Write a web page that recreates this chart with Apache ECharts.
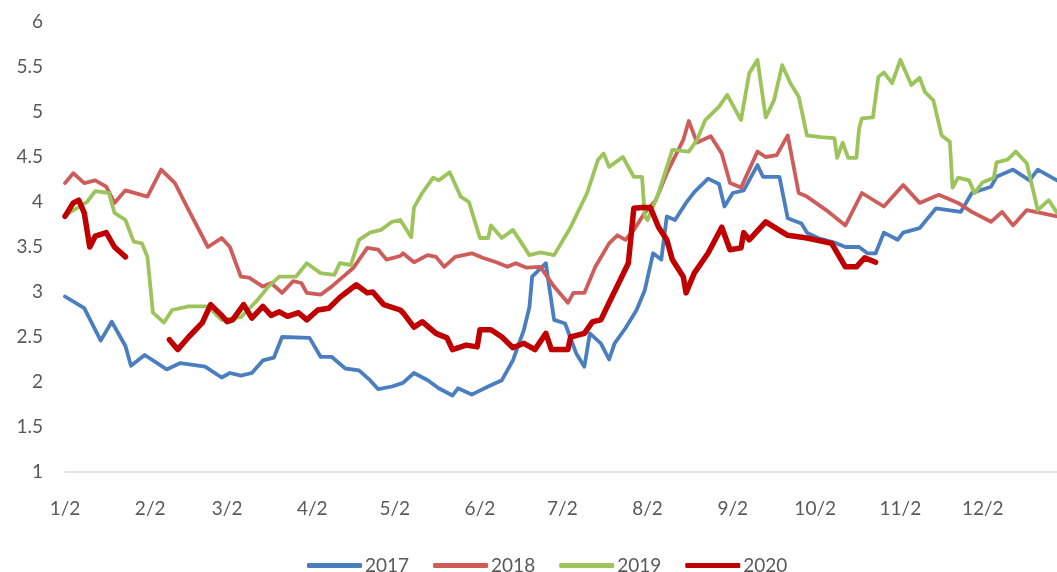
<!DOCTYPE html>
<html>
<head>
<meta charset="utf-8">
<script src="https://cdn.jsdelivr.net/npm/echarts@6/dist/echarts.min.js"></script>
<style>html,body{margin:0;padding:0;background:#fff;}#c{width:1057px;height:572px;}</style>
</head>
<body>
<div id="c"></div>
<script>
// x = days after Jan 2; tick labels at the 2nd of each month
const monthDays = [0, 31, 59, 90, 120, 151, 181, 212, 243, 273, 304, 334];
const monthLabels = ['1/2','2/2','3/2','4/2','5/2','6/2','7/2','8/2','9/2','10/2','11/2','12/2'];
const seriesNames = ['2017', '2018', '2019', '2020'];

const s2017 = [[0,2.95],[7,2.82],[13,2.46],[17,2.67],[22,2.4],[24,2.18],[29,2.3],[37,2.14],[42,2.21],[51,2.17],[57,2.05],[60,2.1],[64,2.07],[68,2.1],[72,2.24],[76,2.27],[79,2.5],[89,2.49],[93,2.28],[97,2.28],[102,2.15],[107,2.13],[111,2.02],[114,1.92],[119,1.95],[123,1.99],[127,2.1],[132,2.02],[136,1.93],[141,1.85],[143,1.93],[148,1.86],[154,1.95],[159,2.02],[163,2.24],[167,2.58],[169,2.83],[170,3.17],[175,3.32],[176,3.1],[178,2.69],[182,2.65],[186,2.32],[189,2.17],[191,2.54],[195,2.43],[198,2.25],[200,2.43],[204,2.6],[208,2.8],[211,3.02],[214,3.43],[217,3.36],[219,3.84],[222,3.8],[226,3.99],[229,4.11],[234,4.26],[238,4.2],[240,3.95],[243,4.1],[247,4.13],[252,4.41],[254,4.28],[260,4.28],[263,3.82],[268,3.76],[270,3.66],[274,3.6],[280,3.55],[284,3.5],[289,3.5],[292,3.43],[295,3.43],[298,3.66],[303,3.58],[305,3.66],[311,3.71],[317,3.93],[326,3.89],[330,4.1],[337,4.17],[339,4.28],[345,4.36],[351,4.24],[354,4.36],[361,4.24]];

const s2018 = [[0,4.21],[3,4.32],[7,4.21],[11,4.24],[15,4.17],[18,3.99],[22,4.13],[30,4.06],[35,4.36],[40,4.21],[45,3.91],[52,3.5],[57,3.6],[60,3.5],[64,3.17],[67,3.16],[72,3.06],[75,3.1],[79,2.99],[83,3.12],[86,3.1],[88,2.99],[93,2.97],[97,3.06],[105,3.27],[110,3.49],[114,3.47],[117,3.36],[122,3.4],[123,3.43],[127,3.33],[132,3.41],[135,3.39],[138,3.28],[142,3.39],[148,3.43],[152,3.38],[157,3.33],[161,3.28],[164,3.32],[168,3.27],[173,3.28],[178,3.06],[183,2.88],[185,2.99],[189,2.99],[193,3.28],[198,3.54],[201,3.63],[204,3.58],[207,3.69],[211,3.88],[215,4.02],[219,4.32],[225,4.69],[227,4.9],[230,4.66],[235,4.73],[239,4.54],[242,4.21],[246,4.16],[252,4.56],[255,4.5],[259,4.52],[263,4.74],[267,4.1],[270,4.06],[277,3.91],[284,3.74],[290,4.1],[298,3.95],[305,4.19],[311,3.99],[318,4.08],[325,3.99],[330,3.89],[337,3.78],[341,3.89],[345,3.74],[350,3.91],[355,3.88],[361,3.84]];

const s2019 = [[0,3.85],[8,4.0],[11,4.12],[16,4.1],[18,3.88],[22,3.8],[25,3.56],[28,3.54],[30,3.39],[32,2.77],[36,2.66],[39,2.8],[45,2.84],[52,2.84],[57,2.69],[64,2.72],[70,2.91],[74,3.06],[78,3.17],[84,3.17],[88,3.32],[93,3.21],[98,3.19],[100,3.32],[104,3.3],[107,3.58],[111,3.66],[115,3.69],[119,3.78],[122,3.8],[126,3.61],[127,3.94],[130,4.1],[134,4.27],[136,4.24],[140,4.33],[144,4.06],[147,4.0],[151,3.6],[154,3.6],[155,3.74],[159,3.6],[163,3.69],[169,3.41],[173,3.44],[178,3.41],[184,3.72],[190,4.1],[194,4.47],[196,4.54],[198,4.39],[203,4.5],[207,4.28],[210,4.28],[211,3.84],[212,3.8],[216,4.1],[221,4.58],[227,4.56],[230,4.69],[233,4.91],[238,5.06],[241,5.19],[246,4.91],[249,5.43],[252,5.58],[255,4.94],[258,5.13],[261,5.52],[264,5.32],[267,5.17],[270,4.74],[275,4.72],[280,4.71],[281,4.49],[283,4.66],[285,4.49],[288,4.49],[289,4.82],[290,4.93],[294,4.94],[296,5.39],[298,5.44],[301,5.32],[304,5.58],[308,5.3],[311,5.38],[313,5.22],[316,5.13],[319,4.74],[322,4.67],[323,4.16],[325,4.27],[329,4.24],[331,4.1],[334,4.22],[338,4.27],[339,4.44],[343,4.47],[346,4.56],[350,4.43],[352,4.17],[354,3.91],[358,4.02],[361,3.88]];

const s2020a = [[0,3.84],[3,3.99],[5,4.02],[7,3.88],[9,3.5],[11,3.62],[15,3.66],[18,3.5],[22,3.39]];
const s2020b = [[38,2.47],[41,2.36],[45,2.5],[50,2.66],[53,2.86],[57,2.74],[59,2.67],[61,2.69],[65,2.86],[68,2.71],[72,2.84],[75,2.74],[78,2.78],[81,2.73],[85,2.77],[88,2.69],[92,2.8],[96,2.82],[100,2.94],[106,3.08],[110,2.99],[112,3.0],[116,2.86],[122,2.8],[123,2.77],[127,2.61],[130,2.67],[135,2.54],[139,2.49],[141,2.36],[146,2.41],[150,2.39],[151,2.58],[155,2.58],[159,2.5],[163,2.38],[167,2.43],[171,2.36],[175,2.54],[177,2.36],[183,2.36],[184,2.5],[189,2.54],[192,2.67],[195,2.69],[198,2.88],[202,3.13],[205,3.32],[207,3.93],[210,3.94],[213,3.94],[216,3.72],[219,3.58],[221,3.36],[225,3.17],[226,2.99],[229,3.21],[234,3.43],[239,3.72],[242,3.47],[246,3.49],[247,3.66],[249,3.58],[255,3.78],[263,3.63],[270,3.6],[279,3.54],[284,3.28],[288,3.28],[291,3.38],[295,3.33]];

const colors = ['#4a7ebf', '#cd5c5a', '#9cc45b', '#c00000'];
const widths = [3.8, 3.8, 3.8, 5.5];
const dataList = [s2017, s2018, s2019, s2020a.concat([[30, '-']], s2020b)];

const chart = echarts.init(document.getElementById('c'), null, {renderer: 'canvas'});
const font = 'Lato, "Open Sans", sans-serif';
chart.setOption({
  animation: false,
  backgroundColor: '#ffffff',
  grid: {left: 65, right: 0, top: 22, bottom: 100, containLabel: false},
  legend: {
    data: seriesNames,
    left: 302, top: 551,
    icon: 'roundRect',
    itemWidth: 55, itemHeight: 5,
    itemGap: 24,
    textStyle: {color: '#595959', fontSize: 19, fontFamily: font, padding: [0, 0, 0, -2]}
  },
  xAxis: {
    type: 'value', min: 0, max: 361,
    axisLine: {show: true, lineStyle: {color: '#d9d9d9', width: 1.5}},
    axisTick: {show: false, customValues: monthDays},
    splitLine: {show: false},
    axisLabel: {
      customValues: monthDays,
      margin: 27,
      color: '#595959', fontSize: 19, fontFamily: font,
      formatter: function (v) { const i = monthDays.indexOf(v); return i >= 0 ? monthLabels[i] : ''; }
    }
  },
  yAxis: {
    type: 'value', min: 1, max: 6, interval: 0.5,
    axisLine: {show: false}, axisTick: {show: false},
    splitLine: {show: false},
    axisLabel: {margin: 22, color: '#595959', fontSize: 19, fontFamily: font}
  },
  series: seriesNames.map((n, i) => ({
    name: n, type: 'line', data: dataList[i],
    showSymbol: false, symbol: 'none', connectNulls: false,
    color: colors[i],
    lineStyle: {color: colors[i], width: widths[i], cap: 'round', join: 'round'},
    z: 2 + i
  }))
});
</script>
</body>
</html>
